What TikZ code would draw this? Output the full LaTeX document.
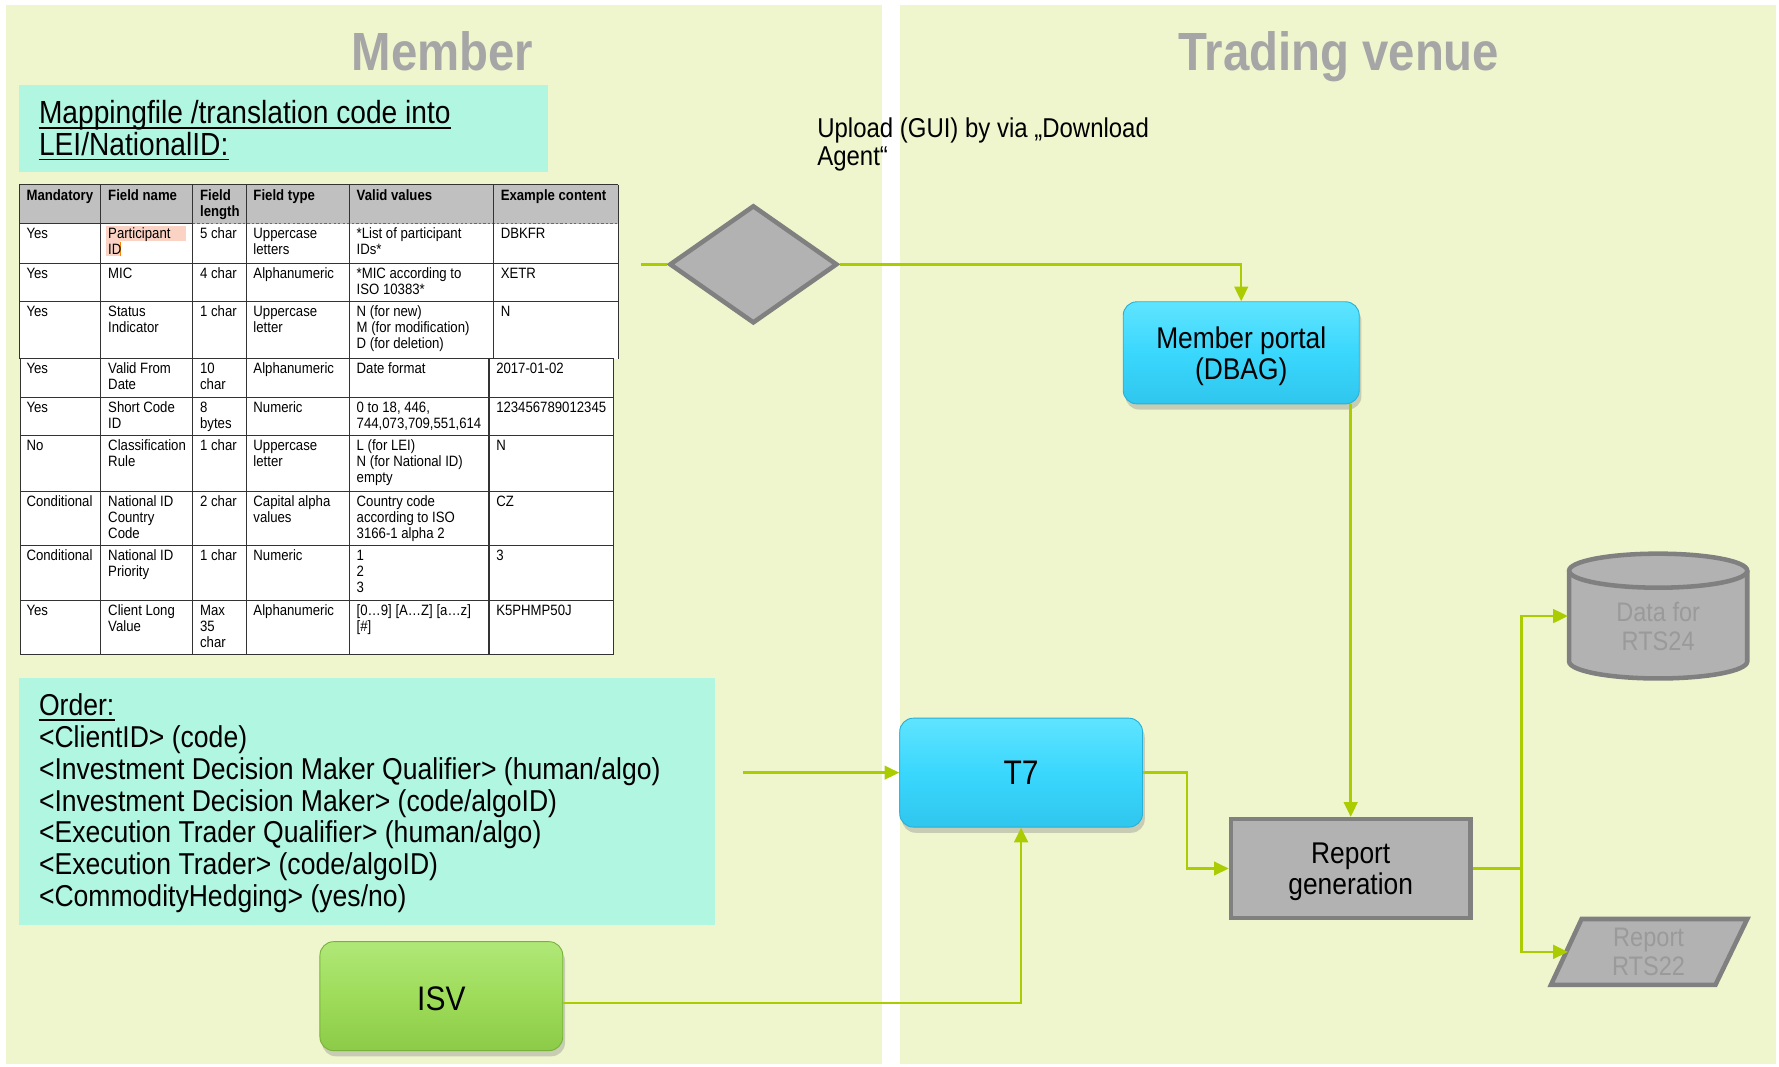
\documentclass[tikz,border=0pt]{standalone}
\usepackage{fontspec}
\setmainfont{Liberation Sans}[FakeStretch=0.88]
\usetikzlibrary{shadows,shapes.geometric,arrows.meta}
\definecolor{panel}{HTML}{EFF6CE}
\definecolor{mint}{HTML}{B1F6E1}
\definecolor{lgreen}{HTML}{AACC00}
\definecolor{cyanmid}{HTML}{3AD7FD}
\definecolor{cyanhi}{HTML}{5FE4FF}
\definecolor{cyanlo}{HTML}{30C6EE}
\definecolor{cyanedge}{HTML}{2AAFD6}
\definecolor{isvmid}{HTML}{9EDC5A}
\definecolor{isvhi}{HTML}{B0E878}
\definecolor{isvlo}{HTML}{8CCB48}
\definecolor{isvedge}{HTML}{78B23A}
\definecolor{grayfill}{HTML}{B2B2B2}
\definecolor{grayline}{HTML}{808080}
\definecolor{titlegray}{HTML}{A6A6A6}
\definecolor{hdrgray}{HTML}{C0C0C0}
\definecolor{pinkhl}{HTML}{FAD3C4}
\definecolor{fadetext}{HTML}{9A9A9A}
\newcommand{\tc}[5][cellstyle]{\node[#1] (#2) at (#3,#4) {\rule{0pt}{5pt}#5};}
\begin{document}
\begin{tikzpicture}[x=0.5pt,y=-0.5pt,
  flow/.style={draw=lgreen,line width=1.1pt,-{Triangle[length=6.5pt,width=6pt]}},
  plainflow/.style={draw=lgreen,line width=1.1pt},
  title/.style={font=\fontsize{23.7}{28}\selectfont\bfseries,text=titlegray,anchor=base,inner sep=0pt},
  bigtext/.style={font=\fontsize{13.3}{14}\selectfont,anchor=base west,inner sep=0pt},
  boxtext/.style={align=center,inner sep=0pt,font=\fontsize{13.2}{14}\selectfont},
  cyanbox/.style={rounded corners=6pt,top color=cyanhi,bottom color=cyanlo,middle color=cyanmid,draw=cyanedge,line width=0.4pt,
     drop shadow={shadow xshift=1pt,shadow yshift=-2.5pt,opacity=0.35},align=center,inner sep=0pt},
  isvbox/.style={rounded corners=6pt,top color=isvhi,bottom color=isvlo,middle color=isvmid,draw=isvedge,line width=0.4pt,
     drop shadow={shadow xshift=1pt,shadow yshift=-2.5pt,opacity=0.35},align=center,inner sep=0pt},
  graybox/.style={fill=grayfill,draw=grayline,line width=2pt},
  cellstyle/.style={anchor=north west,inner sep=0pt,align=left,font=\fontsize{6.6}{7}\selectfont},
  hcellstyle/.style={cellstyle,font=\fontsize{6.6}{7}\selectfont\bfseries},
  tline/.style={draw=black!80,line width=0.45pt}
]
\useasboundingbox (0,0) rectangle (1568,940);
\fill[white] (0,0) rectangle (1568,940);
% panels
\fill[panel] (5,4) rectangle (777,938);
\fill[panel] (793,4) rectangle (1565,938);
\node[title] (tmember) at (390,62) {Member};
\node[title] (tvenue) at (1180,62) {Trading venue};
% mapping box
\fill[mint] (17,75) rectangle (483,152);
\node[bigtext,font=\fontsize{14.1}{14}\selectfont] (m1) at (34,109) {Mappingfile /translation code into};
\node[bigtext,font=\fontsize{14.1}{14}\selectfont] (m2) at (34,137) {LEI/NationalID:};
\draw[line width=0.8pt] ([yshift=-1.8pt]m1.base west) -- ([yshift=-1.8pt]m1.base east);
\draw[line width=0.8pt] ([yshift=-1.8pt]m2.base west) -- ([yshift=-1.8pt]m2.base east);
% table top part
\fill[white] (17,163) rectangle (545,316);
\fill[hdrgray] (17,163) rectangle (545,197);
\fill[white] (18,316) rectangle (541,577);
\fill[pinkhl] (93,199) rectangle (164,212);
\fill[pinkhl] (93,212) rectangle (106,226);
\draw[orange,line width=0.5pt] (106,213) -- (106,226);
\draw[tline] (17,163) -- (545,163);
\draw[tline] (17,197) -- (170,197);
\draw[draw=orange!70!black,line width=0.5pt,dash pattern=on 1pt off 1pt] (170,197) -- (545,197);
\draw[tline] (17,232) -- (545,232);
\draw[tline] (17,266) -- (545,266);
\foreach \cx in {17,89,170,217,308,435,545} {\draw[tline] (\cx,163) -- (\cx,316);}
% table bottom part
\foreach \ry in {316,350,384,433,481,529,577} {\draw[tline] (18,\ry) -- (541,\ry);}
\foreach \cx in {18,89,170,217,308,431,541} {\draw[tline] (\cx,316) -- (\cx,577);}
% header
\tc[hcellstyle]{h1}{23}{166}{Mandatory}
\tc[hcellstyle]{h2}{95}{166}{Field name}
\tc[hcellstyle]{h3}{176}{166}{Field\\length}
\tc[hcellstyle]{h4}{223}{166}{Field type}
\tc[hcellstyle]{h5}{314}{166}{Valid values}
\tc[hcellstyle]{h6}{441}{166}{Example content}
% row 1
\tc{a1}{23}{200}{Yes}
\tc{a2}{95}{200}{Participant\\ID}
\tc{a3}{176}{200}{5 char}
\tc{a4}{223}{200}{Uppercase\\letters}
\tc{a5}{314}{200}{*List of participant\\IDs*}
\tc{a6}{441}{200}{DBKFR}
% row 2
\tc{b1}{23}{235}{Yes}
\tc{b2}{95}{235}{MIC}
\tc{b3}{176}{235}{4 char}
\tc{b4}{223}{235}{Alphanumeric}
\tc{b5}{314}{235}{*MIC according to\\ISO 10383*}
\tc{b6}{441}{235}{XETR}
% row 3
\tc{c1}{23}{269}{Yes}
\tc{c2}{95}{269}{Status\\Indicator}
\tc{c3}{176}{269}{1 char}
\tc{c4}{223}{269}{Uppercase\\letter}
\tc{c5}{314}{269}{N (for new)\\M (for modification)\\D (for deletion)}
\tc{c6}{441}{269}{N}
% row 4
\tc{d1}{23}{319}{Yes}
\tc{d2}{95}{319}{Valid From\\Date}
\tc{d3}{176}{319}{10\\char}
\tc{d4}{223}{319}{Alphanumeric}
\tc{d5}{314}{319}{Date format}
\tc{d6}{437}{319}{2017-01-02}
% row 5
\tc{e1}{23}{353}{Yes}
\tc{e2}{95}{353}{Short Code\\ID}
\tc{e3}{176}{353}{8\\bytes}
\tc{e4}{223}{353}{Numeric}
\tc{e5}{314}{353}{0 to 18, 446,\\744,073,709,551,614}
\tc{e6}{437}{353}{123456789012345}
% row 6
\tc{f1}{23}{387}{No}
\tc{f2}{95}{387}{Classification\\Rule}
\tc{f3}{176}{387}{1 char}
\tc{f4}{223}{387}{Uppercase\\letter}
\tc{f5}{314}{387}{L (for LEI)\\N (for National ID)\\empty}
\tc{f6}{437}{387}{N}
% row 7
\tc{g1}{23}{436}{Conditional}
\tc{g2}{95}{436}{National ID\\Country\\Code}
\tc{g3}{176}{436}{2 char}
\tc{g4}{223}{436}{Capital alpha\\values}
\tc{g5}{314}{436}{Country code\\according to ISO\\3166-1 alpha 2}
\tc{g6}{437}{436}{CZ}
% row 8
\tc{k1}{23}{484}{Conditional}
\tc{k2}{95}{484}{National ID\\Priority}
\tc{k3}{176}{484}{1 char}
\tc{k4}{223}{484}{Numeric}
\tc{k5}{314}{484}{1\\2\\3}
\tc{k6}{437}{484}{3}
% row 9
\tc{l1}{23}{532}{Yes}
\tc{l2}{95}{532}{Client Long\\Value}
\tc{l3}{176}{532}{Max\\35\\char}
\tc{l4}{223}{532}{Alphanumeric}
\tc{l5}{314}{532}{[0…9] [A…Z] [a…z]\\{}[\#]}
\tc{l6}{437}{532}{K5PHMP50J}
% order box
\fill[mint] (17,598) rectangle (630,815);
\node[bigtext] (o0) at (34,631) {Order:};
\draw[line width=0.8pt] ([yshift=-1.8pt]o0.base west) -- ([yshift=-1.8pt]o0.base east);
\node[bigtext] (o1) at (34,659) {<ClientID> (code)};
\node[bigtext] (o2) at (34,687) {<Investment Decision Maker Qualifier> (human/algo)};
\node[bigtext] (o3) at (34,715) {<Investment Decision Maker> (code/algoID)};
\node[bigtext] (o4) at (34,743) {<Execution Trader Qualifier> (human/algo)};
\node[bigtext] (o5) at (34,771) {<Execution Trader> (code/algoID)};
\node[bigtext] (o6) at (34,799) {<CommodityHedging> (yes/no)};
% upload text
\node[bigtext,font=\fontsize{12}{12.5}\selectfont] (u1) at (720,121) {Upload (GUI) by via „Download};
\node[bigtext,font=\fontsize{12}{12.5}\selectfont] (u2) at (720,146) {Agent“};
% diamond
\node[diamond,graybox,minimum width=74pt,minimum height=52pt,inner sep=0pt] (dia) at (664,233) {};
% boxes
\node[cyanbox,minimum width=104pt,minimum height=45pt] (mp) at (1094,311) {};
\node[boxtext] (mptext) at (1094,314) {Member portal\\(DBAG)};
\node[cyanbox,minimum width=107pt,minimum height=48pt,font=\fontsize{15}{16}\selectfont] (t7) at (900,681) {T7};
\node[isvbox,minimum width=107pt,minimum height=48pt] (isv) at (389,878) {};
\node[boxtext,font=\fontsize{15}{16}\selectfont] (isvtext) at (389,880) {ISV};
\node[graybox,minimum width=105.5pt,minimum height=43.5pt,inner sep=0pt] (rg) at (1190.5,765.5) {};
\node[boxtext] (rgtext) at (1190.5,768.5) {Report\\generation};
% cylinder
\draw[graybox] (1383,503) -- (1383,583) arc[start angle=180,end angle=360,x radius=39.25pt,y radius=7.5pt] -- (1540,503);
\draw[graybox] (1461.5,503) ellipse[x radius=39.25pt,y radius=7.5pt];
\node[align=center,text=fadetext,inner sep=0pt,font=\fontsize{11.8}{12.5}\selectfont] (cyl) at (1461.5,552) {Data for\\RTS24};
\coordinate (cylw) at (1382,543);
% parallelogram
\draw[graybox] (1394,810) -- (1540,810) -- (1512,868) -- (1367,868) -- cycle;
\node[align=center,text=fadetext,inner sep=0pt,font=\fontsize{11.8}{12.5}\selectfont] (rts22) at (1453,839) {Report\\RTS22};
\coordinate (parw) at (1382,839);
% connectors
\coordinate (inL) at (565,233);
\draw[plainflow] (inL) -- (dia.west);
\draw[flow] (dia.east) -| (mp.north);
\coordinate (ordR) at (655,681);
\draw[flow] (ordR) -- (t7.west);
\draw[flow] (t7.east) -- ++(39,0) |- (rg.west);
\draw[flow] ([yshift=-3pt]isv.east) -| (t7.south);
\draw[flow] (mp.south -| rg.north) -- (rg.north);
\draw[flow] (rg.east) -- ++(43,0) |- (cylw);
\draw[flow] (rg.east) -- ++(43,0) |- (parw);
\end{tikzpicture}
\end{document}
